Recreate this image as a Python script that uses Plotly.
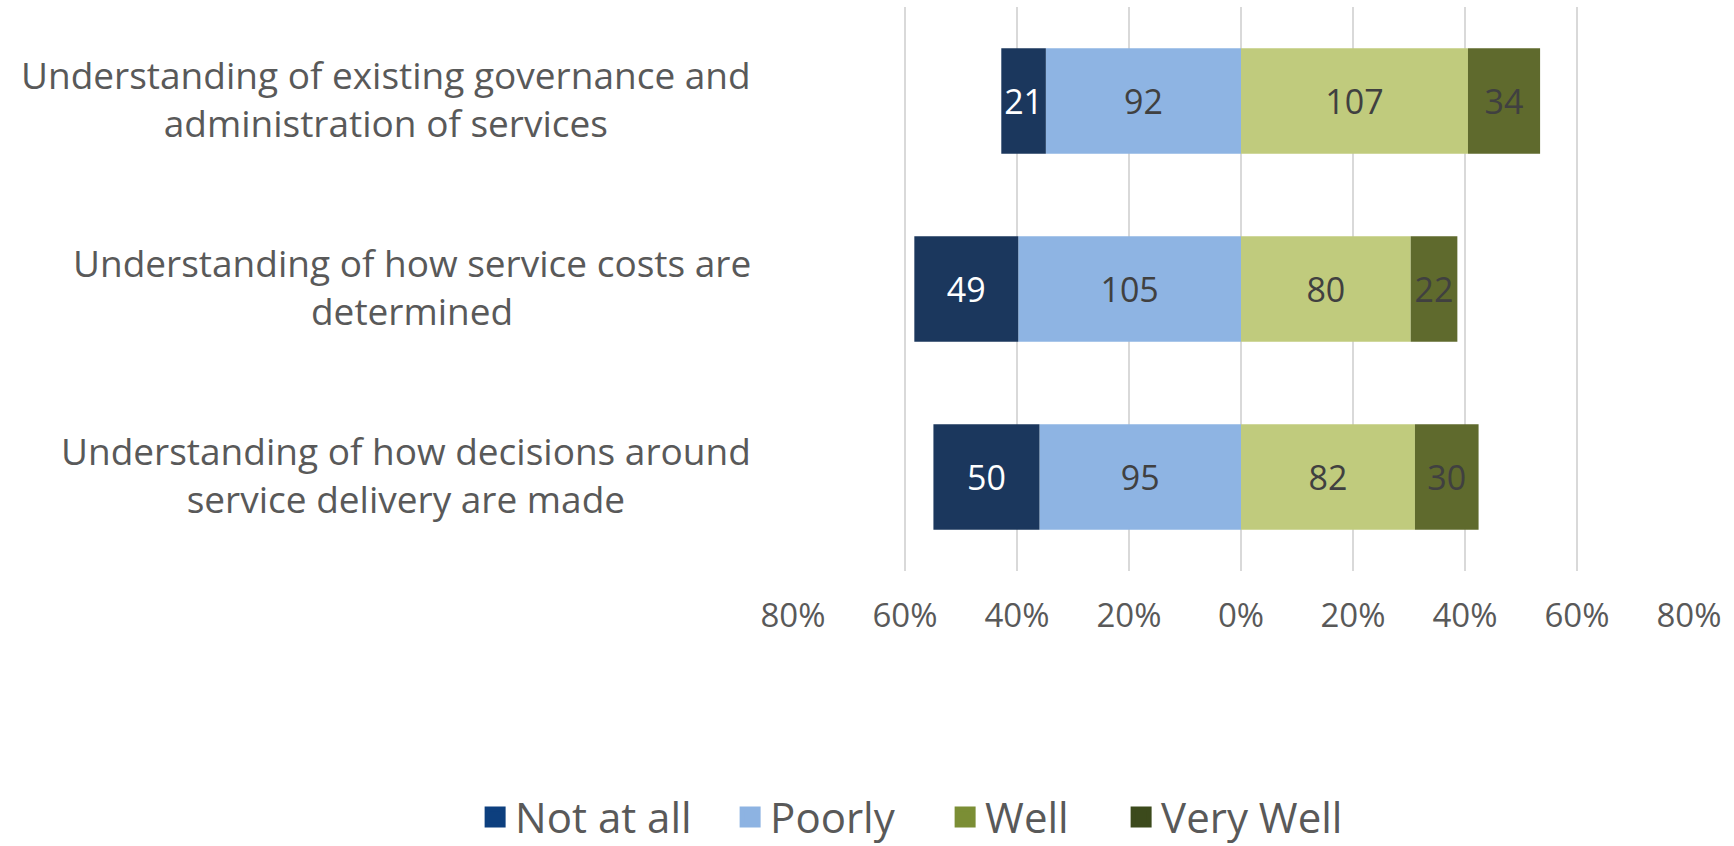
import plotly.graph_objects as go

# Survey statements (top to bottom) and response counts per rating
statements = [
    "Understanding of existing governance and<br>administration of services",
    "Understanding of how service costs are<br>determined",
    "Understanding of how decisions around<br>service delivery are made",
]
not_at_all = [21, 49, 50]
poorly = [92, 105, 95]
well = [107, 80, 82]
very_well = [34, 22, 30]
respondents = 264

tick_values = [-0.8, -0.6, -0.4, -0.2, 0.0, 0.2, 0.4, 0.6, 0.8]
tick_labels = ["80%", "60%", "40%", "20%", "0%", "20%", "40%", "60%", "80%"]

FONT = "Open Sans, Noto Sans, sans-serif"
GREY = "#595959"
DARK = "#404040"

bar_colors = {
    "Not at all": "#1b375d",
    "Poorly": "#8eb4e3",
    "Well": "#c0cb7d",
    "Very Well": "#5f6a2d",
}
legend_colors = {
    "Not at all": "#0d3f7e",
    "Poorly": "#8db3e2",
    "Well": "#7b8e35",
    "Very Well": "#3c4a1c",
}
# width reserved for each legend entry's label
legend_entry_width = {
    "Not at all": 210,
    "Poorly": 170,
    "Well": 131,
    "Very Well": 190,
}


def share(counts, sign):
    return [sign * c / respondents for c in counts]


fig = go.Figure()

# Negative side: "Poorly" sits next to zero, "Not at all" stacks outward
series = [
    ("Poorly", poorly, -1, DARK),
    ("Not at all", not_at_all, -1, "white"),
    ("Well", well, 1, DARK),
    ("Very Well", very_well, 1, DARK),
]
for name, counts, sign, txt_color in series:
    fig.add_trace(go.Bar(
        name=name,
        y=statements,
        x=share(counts, sign),
        orientation="h",
        width=0.56,
        marker=dict(color=bar_colors[name], line=dict(width=0)),
        text=[str(c) for c in counts],
        textposition="inside",
        insidetextanchor="middle",
        textfont=dict(family=FONT, size=34, color=txt_color),
        showlegend=False,
        hoverinfo="skip",
    ))

# Legend entries (square swatches)
for name in ["Not at all", "Poorly", "Well", "Very Well"]:
    fig.add_trace(go.Scatter(
        name=name,
        x=[None],
        y=[None],
        mode="markers",
        marker=dict(symbol="square", size=16, color=legend_colors[name],
                    line=dict(color=legend_colors[name], width=5)),
        legendwidth=legend_entry_width[name],
        showlegend=True,
    ))

# Category labels, centred line by line to the left of the plot
for s in statements:
    fig.add_annotation(
        x=0, xref="paper", xanchor="right", xshift=-40,
        y=s, yref="y", yanchor="middle", yshift=3,
        text=s, align="center", showarrow=False,
        font=dict(family=FONT, size=37, color=GREY),
    )

fig.update_layout(
    width=1734,
    height=846,
    margin=dict(l=793, r=45, t=7, b=275),
    paper_bgcolor="white",
    plot_bgcolor="white",
    barmode="relative",
    bargap=0.44,
    uniformtext=dict(minsize=34, mode="show"),
    font=dict(family=FONT, color=GREY),
    xaxis=dict(
        range=[-0.8, 0.8],
        tickvals=tick_values,
        ticktext=tick_labels,
        tickfont=dict(family=FONT, size=33, color=GREY),
        showgrid=True,
        gridcolor="#d9d9d9",
        gridwidth=2,
        zeroline=True,
        zerolinecolor="#d9d9d9",
        zerolinewidth=2,
        showline=False,
        ticks="",
        ticklabelstandoff=22,
        fixedrange=True,
    ),
    yaxis=dict(
        categoryorder="array",
        categoryarray=statements[::-1],
        showticklabels=False,
        showgrid=False,
        zeroline=False,
        showline=False,
        fixedrange=True,
    ),
    legend=dict(
        orientation="h",
        xref="container",
        x=0.274,
        xanchor="left",
        yref="container",
        y=0.034,
        yanchor="middle",
        font=dict(family=FONT, size=42, color=GREY),
        itemwidth=30,
        traceorder="normal",
        bgcolor="rgba(0,0,0,0)",
    ),
)

fig.write_html("out.html")
